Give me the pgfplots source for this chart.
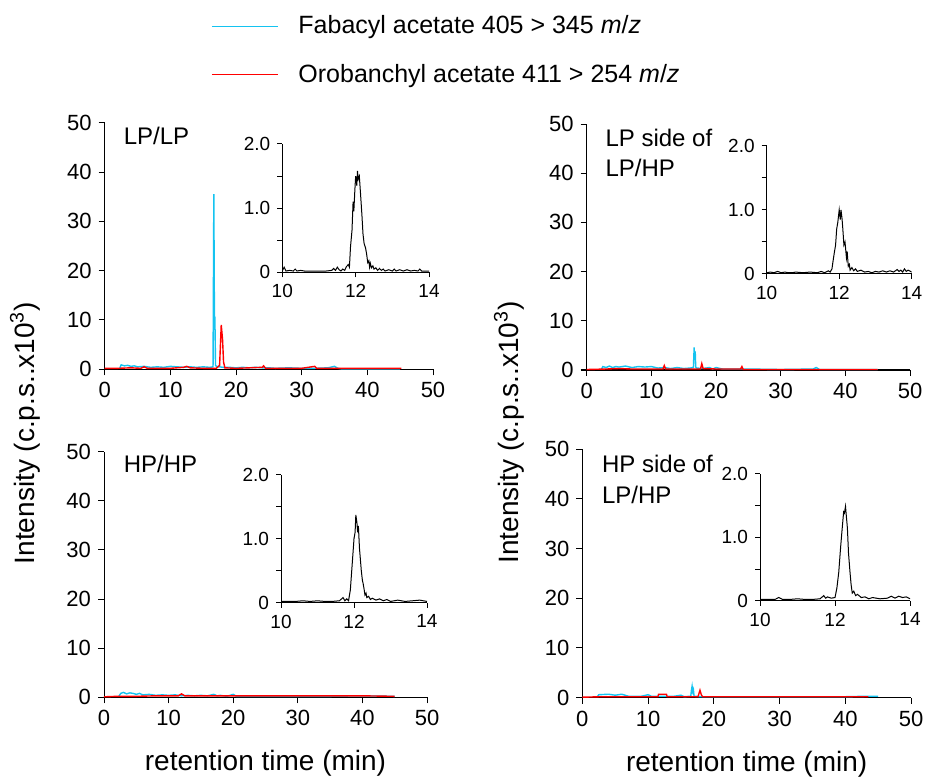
\documentclass[border=0pt]{standalone}
\usepackage{fontspec}
\setmainfont{Liberation Sans}
\usepackage{pgfplots}
\pgfplotsset{compat=1.18}
\definecolor{faba}{RGB}{20,195,240}
\definecolor{oroba}{RGB}{255,0,0}
\newcommand\tickfont{\fontsize{11}{13}\selectfont}
\newcommand\legfont{\fontsize{12.5}{15}\selectfont}
\newcommand\panfont{\fontsize{12}{14}\selectfont}
\newcommand\axfont{\fontsize{14}{16}\selectfont}
\newcommand\insfont{\fontsize{9.5}{11}\selectfont}

\pgfplotsset{
  mainax/.style={
    scale only axis,
    xmin=0, xmax=50, ymin=0, ymax=50,
    axis x line*=bottom, axis y line*=left,
    tick align=outside,
    xtick={0,10,...,50}, ytick={0,10,...,50},
    major tick length=3pt,
    axis line style={line width=0.5pt},
    tick style={black, line width=0.5pt},
    ticklabel style={font=\tickfont},
    /pgf/number format/assume math mode=true,
    clip=false,
  },
  inset/.style={
    scale only axis,
    xmin=10, xmax=14, ymin=0, ymax=2,
    axis x line*=bottom, axis y line*=left,
    tick align=outside,
    xtick={10,12,14}, ytick={0,1,2}, yticklabels={0,1.0,2.0},
    minor ytick={0.5,1.5},
    major tick length=2.5pt, minor tick length=2.5pt,
    axis line style={line width=0.5pt},
    tick style={black, line width=0.5pt},
    ticklabel style={font=\insfont},
    /pgf/number format/assume math mode=true,
  },
  fab/.style={faba, line width=0.7pt},
  oro/.style={oroba, line width=0.7pt},
  blk/.style={black, line width=0.5pt},
}

\begin{document}
\begin{tikzpicture}
\useasboundingbox (0,0) rectangle (462.5pt,388.5pt);

% ---------- top left: LP/LP ----------
\begin{axis}[mainax, at={(52.35pt,203.85pt)}, anchor=south west,
  width=164.15pt, height=123.3pt,
  legend style={draw=none, fill=none, inner sep=0pt, row sep=9.5pt, column sep=8pt,
    font=\legfont, legend cell align=left,
    at={(axis description cs:0.324,1.451)}, anchor=north west},
  legend image code/.code={\draw[#1] (0pt,0pt) -- (33pt,0pt);},
]
\addlegendimage{draw=faba, line width=0.5pt}
\addlegendentry{Fabacyl acetate 405 > 345 \textit{m}/\textit{z}}
\addlegendimage{draw=oroba, line width=0.5pt}
\addlegendentry{Orobanchyl acetate 411 > 254 \textit{m}/\textit{z}}
\addplot[fab, forget plot] coordinates {
(2.3,0.2)(2.5,0.9)(3,0.7)(3.5,0.8)(4,0.6)(4.5,0.7)(5,0.5)(6,0.6)(7,0.4)(8,0.5)
(9,0.4)(10,0.6)(11,0.5)(12,0.4)(13,0.5)(14,0.4)(15,0.5)(16,0.4)(16.5,0.5)
(16.62,35.5)(16.72,8)(16.78,10.7)(16.88,0.8)(17,0.6)(17.5,0.5)(18,0.4)(19,0.4)
(20,0.3)(21,0.4)(22,0.3)(23,0.4)(24,0.3)(25,0.3)(26,0.2)(28,0.3)(30,0.2)(32,0.2)
(34,0.3)(35,0.6)(35.5,0.2)(36,0.1)(40,0.1)(45,0.1)};
\addplot[oro, forget plot] coordinates {
(0,0.2)(2,0.2)(4,0.3)(5.5,0.2)(6,0.5)(6.5,0.2)(10,0.2)(12,0.4)(12.5,0.6)(13,0.3)
(15,0.2)(17,0.2)(17.5,0.8)(17.75,9.0)(17.95,6)(18.1,1.5)(18.3,0.3)(20,0.2)
(24,0.4)(24.2,0.7)(24.5,0.2)(30,0.2)(32,0.6)(32.3,0.2)(35,0.2)(40,0.2)(45.2,0.2)};
\node[anchor=base west, inner sep=0pt, font=\panfont] at (axis description cs:0.057,0.912) {LP/LP};
\end{axis}

\begin{axis}[inset, at={(141.15pt,252.35pt)}, anchor=south west,
  width=73.35pt, height=64.15pt]
\addplot[blk] coordinates {
(10,0.02)(10.05,0.08)(10.1,0.02)(10.2,0.03)(10.3,0.02)(10.35,0.05)(10.4,0.02)(10.5,0.03)
(10.6,0.02)(10.8,0.02)(11,0.02)(11.2,0.02)(11.35,0.03)(11.4,0.06)(11.45,0.03)(11.5,0.08)
(11.55,0.04)(11.6,0.02)(11.65,0.05)(11.7,0.03)(11.75,0.09)(11.8,0.12)(11.83,0.08)
(11.86,0.4)(11.9,0.65)(11.93,1.1)(11.95,0.95)(11.98,1.3)(12.0,1.5)(12.03,1.35)
(12.05,1.58)(12.07,1.45)(12.1,1.5)(12.13,1.25)(12.17,0.9)(12.2,0.6)(12.23,0.45)
(12.27,0.38)(12.3,0.28)(12.33,0.15)(12.36,0.18)(12.38,0.08)(12.4,0.14)(12.43,0.07)
(12.47,0.1)(12.5,0.05)(12.55,0.07)(12.6,0.03)(12.65,0.06)(12.7,0.03)(12.75,0.05)
(12.8,0.02)(12.9,0.04)(13,0.02)(13.05,0.05)(13.1,0.02)(13.2,0.04)(13.3,0.02)(13.4,0.04)
(13.5,0.02)(13.6,0.03)(13.7,0.02)(13.75,0.05)(13.8,0.02)(13.9,0.02)(14,0.02)};
\end{axis}

% ---------- top right: LP side of LP/HP ----------
\begin{axis}[mainax, at={(293.35pt,203.5pt)}, anchor=south west,
  width=161.65pt, height=123pt]
\addplot[fab] coordinates {
(2.3,0.2)(2.5,0.7)(3,0.5)(3.5,0.8)(4,0.5)(4.5,0.7)(5,0.6)(6,0.8)(7,0.5)(8,0.7)
(9,0.6)(10,0.7)(11,0.4)(12,0.5)(13,0.3)(14,0.5)(15,0.3)(16,0.4)(16.5,0.5)
(16.62,4.6)(16.7,2)(16.78,3.8)(16.86,0.6)(17,0.4)(18,0.3)(19,0.5)(19.5,0.2)
(20,0.5)(21,0.2)(25,0.2)(30,0.1)(35,0.2)(35.5,0.5)(36,0.1)(40,0.1)(45,0.1)};
\addplot[oro] coordinates {
(0,0.1)(3,0.2)(5,0.3)(7,0.2)(10,0.2)(11.8,0.2)(12,0.9)(12.2,0.2)(15,0.2)(17.6,0.2)
(17.8,1.3)(18,0.3)(20,0.2)(23.8,0.2)(24,0.7)(24.2,0.1)(30,0.1)(40,0.1)(45,0.1)};
\node[anchor=base west, inner sep=0pt, font=\panfont] at (axis description cs:0.057,0.908) {LP side of};
\node[anchor=base west, inner sep=0pt, font=\panfont] at (axis description cs:0.057,0.786) {LP/HP};
\end{axis}

\begin{axis}[inset, at={(383.35pt,251.5pt)}, anchor=south west,
  width=72.5pt, height=64.15pt]
\addplot[blk] coordinates {
(10,0.02)(10.1,0.03)(10.2,0.02)(10.3,0.04)(10.4,0.02)(10.5,0.03)(10.6,0.02)(10.7,0.02)
(10.8,0.03)(11,0.02)(11.2,0.03)(11.4,0.02)(11.5,0.04)(11.6,0.02)(11.7,0.05)(11.75,0.03)
(11.8,0.08)(11.83,0.2)(11.87,0.35)(11.9,0.45)(11.93,0.7)(11.96,0.8)(12.0,1.0)(12.03,0.85)
(12.05,1.0)(12.08,0.85)(12.1,0.7)(12.13,0.45)(12.16,0.5)(12.2,0.25)(12.22,0.35)
(12.25,0.12)(12.28,0.15)(12.3,0.06)(12.35,0.1)(12.4,0.05)(12.45,0.08)(12.5,0.04)
(12.6,0.06)(12.7,0.03)(12.8,0.04)(12.9,0.02)(13,0.04)(13.1,0.03)(13.2,0.05)(13.3,0.03)
(13.4,0.05)(13.5,0.03)(13.6,0.07)(13.65,0.04)(13.7,0.06)(13.75,0.03)(13.8,0.08)
(13.85,0.04)(13.9,0.06)(14,0.03)};
\end{axis}

% ---------- bottom left: HP/HP ----------
\begin{axis}[mainax, at={(52pt,39.85pt)}, anchor=south west,
  width=161.5pt, height=122.8pt,
  xlabel={retention time (min)},
  xlabel style={font=\axfont, at={(axis description cs:0.5,-0.300)}, anchor=base},
  ylabel={Intensity (c.p.s..x10\textsuperscript{3})},
  ylabel style={font=\axfont, at={(axis description cs:-0.245,1.076)}, anchor=center},
]
\addplot[fab] coordinates {
(2.3,0.2)(2.6,0.8)(3,1.0)(3.5,0.7)(4,0.9)(4.5,0.8)(5,0.6)(5.5,0.8)(6,0.5)(7,0.6)
(8,0.4)(9,0.5)(10,0.4)(11,0.5)(12,0.3)(13,0.4)(14,0.3)(15,0.4)(16,0.3)(17,0.6)
(17.5,0.3)(18,0.4)(19,0.2)(20,0.6)(20.5,0.2)(25,0.2)(30,0.2)(35,0.2)(40,0.3)(45,0.2)};
\addplot[oro] coordinates {
(0,0.1)(2,0.2)(5,0.2)(8,0.3)(11.5,0.3)(12,0.7)(12.5,0.3)(15,0.3)(20,0.3)(25,0.3)
(30,0.3)(35,0.3)(40,0.3)(45,0.2)};
\node[anchor=base west, inner sep=0pt, font=\panfont] at (axis description cs:0.06,0.916) {HP/HP};
\end{axis}

\begin{axis}[inset, at={(140.5pt,87.15pt)}, anchor=south west,
  width=73pt, height=64pt]
\addplot[blk] coordinates {
(10,0.02)(10.2,0.02)(10.4,0.02)(10.6,0.03)(10.8,0.02)(11,0.03)(11.2,0.02)(11.4,0.02)
(11.6,0.03)(11.7,0.08)(11.75,0.03)(11.8,0.06)(11.85,0.03)(11.9,0.2)(11.95,0.6)(12.0,1.0)
(12.03,1.1)(12.05,1.37)(12.08,1.25)(12.1,1.1)(12.12,1.2)(12.15,0.85)(12.2,0.5)(12.23,0.35)
(12.25,0.3)(12.28,0.2)(12.3,0.12)(12.33,0.15)(12.35,0.08)(12.4,0.1)(12.45,0.05)(12.5,0.07)
(12.6,0.04)(12.7,0.06)(12.8,0.03)(12.9,0.05)(13,0.02)(13.2,0.04)(13.4,0.02)(13.6,0.03)
(13.8,0.04)(14,0.02)};
\end{axis}

% ---------- bottom right: HP side of LP/HP ----------
\begin{axis}[mainax, at={(291.15pt,39.65pt)}, anchor=south west,
  width=164.35pt, height=124.3pt,
  xlabel={retention time (min)},
  xlabel style={font=\axfont, at={(axis description cs:0.5,-0.295)}, anchor=base},
  ylabel={Intensity (c.p.s..x10\textsuperscript{3})},
  ylabel style={font=\axfont, at={(axis description cs:-0.223,1.067)}, anchor=center},
]
\addplot[fab] coordinates {
(2.3,0.2)(2.5,0.6)(4,0.7)(5,0.5)(6,0.7)(7,0.3)(9,0.3)(10,0.6)(10.5,0.3)(12,0.3)
(14,0.3)(15,0.5)(15.5,0.2)(16.5,0.3)(16.6,1.5)(16.7,2.3)(16.8,1.2)(16.9,1.6)(17,0.3)
(18,0.2)(25,0.2)(30,0.2)(35,0.2)(40,0.2)(43.5,0.3)(45,0.3)};
\addplot[oro] coordinates {
(0,0.1)(3,0.2)(6,0.2)(9,0.2)(11.5,0.2)(11.6,0.7)(12.8,0.7)(12.9,0.2)(16,0.2)(17.6,0.2)
(17.9,1.5)(18.1,0.6)(18.3,0.2)(25,0.2)(30,0.2)(35,0.2)(40,0.2)(43.5,0.2)};
\node[anchor=base west, inner sep=0pt, font=\panfont] at (axis description cs:0.059,0.906) {HP side of};
\node[anchor=base west, inner sep=0pt, font=\panfont] at (axis description cs:0.059,0.782) {LP/HP};
\end{axis}

\begin{axis}[inset, at={(380pt,88.15pt)}, anchor=south west,
  width=75pt, height=63.35pt]
\addplot[blk] coordinates {
(10,0.02)(10.2,0.02)(10.4,0.02)(10.5,0.05)(10.6,0.02)(10.8,0.02)(11,0.03)(11.2,0.02)
(11.4,0.02)(11.6,0.03)(11.7,0.08)(11.75,0.04)(11.8,0.06)(11.9,0.04)(12.0,0.05)(12.05,0.2)
(12.1,0.45)(12.15,0.85)(12.2,1.2)(12.23,1.4)(12.25,1.38)(12.28,1.49)(12.3,1.35)(12.33,1.15)
(12.36,0.75)(12.4,0.45)(12.43,0.25)(12.46,0.12)(12.5,0.15)(12.55,0.08)(12.6,0.1)(12.7,0.05)
(12.8,0.06)(12.9,0.03)(13,0.05)(13.2,0.03)(13.4,0.04)(13.5,0.07)(13.6,0.04)(13.7,0.07)
(13.8,0.05)(13.9,0.06)(14,0.03)};
\end{axis}
\end{tikzpicture}
\end{document}
